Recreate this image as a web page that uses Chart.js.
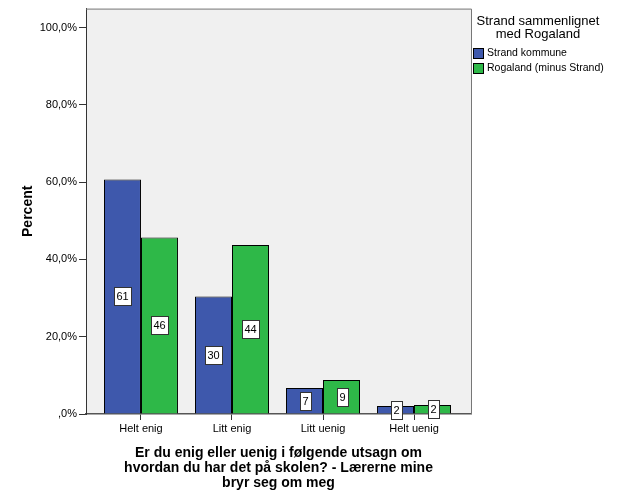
<!DOCTYPE html>
<html>
<head>
<meta charset="utf-8">
<script src="https://cdn.jsdelivr.net/npm/chart.js@4/dist/chart.umd.min.js"></script>
<style>
  html, body { margin: 0; padding: 0; background: #fff; }
  #wrap { width: 629px; height: 504px; position: relative; }
</style>
</head>
<body>
<div id="wrap"><canvas id="chart"></canvas></div>
<script>
// categories and values (percent)
const categories = ['Helt enig', 'Litt enig', 'Litt uenig', 'Helt uenig'];
const strandValues = [60.7, 30.4, 6.7, 2.1];
const rogalandValues = [45.7, 43.7, 8.8, 2.3];
const seriesNames = ['Strand kommune', 'Rogaland (minus Strand)'];
const yTicks = [0, 20, 40, 60, 80, 100];
const legendTitle = ['Strand sammenlignet', 'med Rogaland'];
const xTitle = ['Er du enig eller uenig i følgende utsagn om', 'hvordan du har det på skolen? - Lærerne mine', 'bryr seg om meg'];

const colors = ['#3e58ac', '#2eb848'];
const font = 'Liberation Sans, Arial, sans-serif';

const toPoints = arr => arr.map((v, i) => ({ x: i, y: v }));

const fmtPct = v => v === 0 ? ',0%' : v.toFixed(1).replace('.', ',') + '%';

const plotBg = {
  id: 'plotBg',
  beforeDraw(chart) {
    const { ctx, chartArea: a } = chart;
    ctx.save();
    ctx.fillStyle = '#f0f0f0';
    ctx.fillRect(a.left, a.top, a.right - a.left, a.bottom - a.top);
    ctx.restore();
  },
  afterDraw(chart) {
    const { ctx, chartArea: a } = chart;
    ctx.save();
    // plot frame top and right
    ctx.strokeStyle = '#777';
    ctx.lineWidth = 1;
    ctx.beginPath();
    ctx.moveTo(a.left, a.top + 0.5);
    ctx.lineTo(a.right + 0.5, a.top + 0.5);
    ctx.lineTo(a.right + 0.5, a.bottom);
    ctx.stroke();

    // legend
    ctx.fillStyle = '#000';
    ctx.font = '13px ' + font;
    ctx.textAlign = 'center';
    ctx.textBaseline = 'middle';
    const cx = a.right + 67;
    legendTitle.forEach((t, i) => ctx.fillText(t, cx, 21 + i * 13));
    ctx.font = '10.5px ' + font;
    ctx.textAlign = 'left';
    seriesNames.forEach((name, i) => {
      const y = 48 + i * 15;
      ctx.fillStyle = colors[i];
      ctx.fillRect(a.right + 2, y, 10, 10);
      ctx.strokeStyle = '#000';
      ctx.strokeRect(a.right + 2.5, y + 0.5, 10, 10);
      ctx.fillStyle = '#000';
      ctx.fillText(name, a.right + 16, y + 5.5);
    });
    ctx.restore();
  }
};

const valueLabels = {
  id: 'valueLabels',
  afterDatasetsDraw(chart) {
    const { ctx } = chart;
    ctx.save();
    ctx.font = '11px ' + font;
    ctx.textAlign = 'center';
    ctx.textBaseline = 'middle';
    chart.data.datasets.forEach((ds, di) => {
      chart.getDatasetMeta(di).data.forEach((bar, i) => {
        const txt = String(Math.round(ds.data[i].y));
        const x = Math.round(bar.x);
        const y = Math.round((bar.y + bar.base) / 2);
        const w = Math.round(ctx.measureText(txt).width + 5);
        const h = 18;
        const left = Math.round(x - w / 2);
        const top = Math.round(y - h / 2);
        ctx.fillStyle = '#fff';
        ctx.fillRect(left, top, w, h);
        ctx.strokeStyle = '#333';
        ctx.lineWidth = 1;
        ctx.strokeRect(left + 0.5, top + 0.5, w, h);
        ctx.fillStyle = '#000';
        ctx.fillText(txt, x + 0.5, y + 1);
      });
    });
    ctx.restore();
  }
};

new Chart(document.getElementById('chart'), {
  type: 'bar',
  data: {
    datasets: [
      { label: seriesNames[0], data: toPoints(strandValues), backgroundColor: colors[0], borderColor: '#000', borderWidth: 1, borderSkipped: 'bottom' },
      { label: seriesNames[1], data: toPoints(rogalandValues), backgroundColor: colors[1], borderColor: '#000', borderWidth: 1, borderSkipped: 'bottom' }
    ]
  },
  options: {
    responsive: true,
    maintainAspectRatio: false,
    animation: false,
    datasets: { bar: { barPercentage: 1, categoryPercentage: 0.813 } },
    layout: { padding: { top: 8, right: 158, bottom: 0, left: 0 } },
    plugins: { legend: { display: false }, tooltip: { enabled: false } },
    scales: {
      x: {
        type: 'linear',
        offset: false,
        min: -0.604,
        max: 3.626,
        afterBuildTicks: axis => { axis.ticks = categories.map((c, i) => ({ value: i })); },
        afterFit: axis => { axis.height = 90; },
        ticks: {
          callback: v => categories[v],
          color: '#000',
          font: { family: font, size: 11 },
          padding: 2,
          maxRotation: 0,
          autoSkip: false
        },
        grid: { offset: false, drawOnChartArea: false, drawTicks: true, tickLength: 6, color: '#333' },
        border: { display: true, color: '#555', width: 1.5 },
        title: {
          display: true,
          text: xTitle,
          color: '#000',
          font: { family: font, size: 14, weight: 'bold', lineHeight: 1.05 },
          padding: { top: 12, bottom: 14 }
        }
      },
      y: {
        min: 0,
        max: 104.9,
        afterBuildTicks: axis => { axis.ticks = yTicks.map(v => ({ value: v })); },
        afterFit: axis => { axis.width = 86; },
        ticks: {
          callback: v => fmtPct(v),
          color: '#000',
          font: { family: font, size: 11 },
          padding: 2
        },
        grid: { drawOnChartArea: false, drawTicks: true, tickLength: 7, color: '#333' },
        border: { display: true, color: '#333', width: 1 },
        title: {
          display: true,
          text: 'Percent',
          color: '#000',
          font: { family: font, size: 14, weight: 'bold' },
          padding: { top: 20, bottom: 8 }
        }
      }
    }
  },
  plugins: [plotBg, valueLabels]
});
</script>
</body>
</html>
